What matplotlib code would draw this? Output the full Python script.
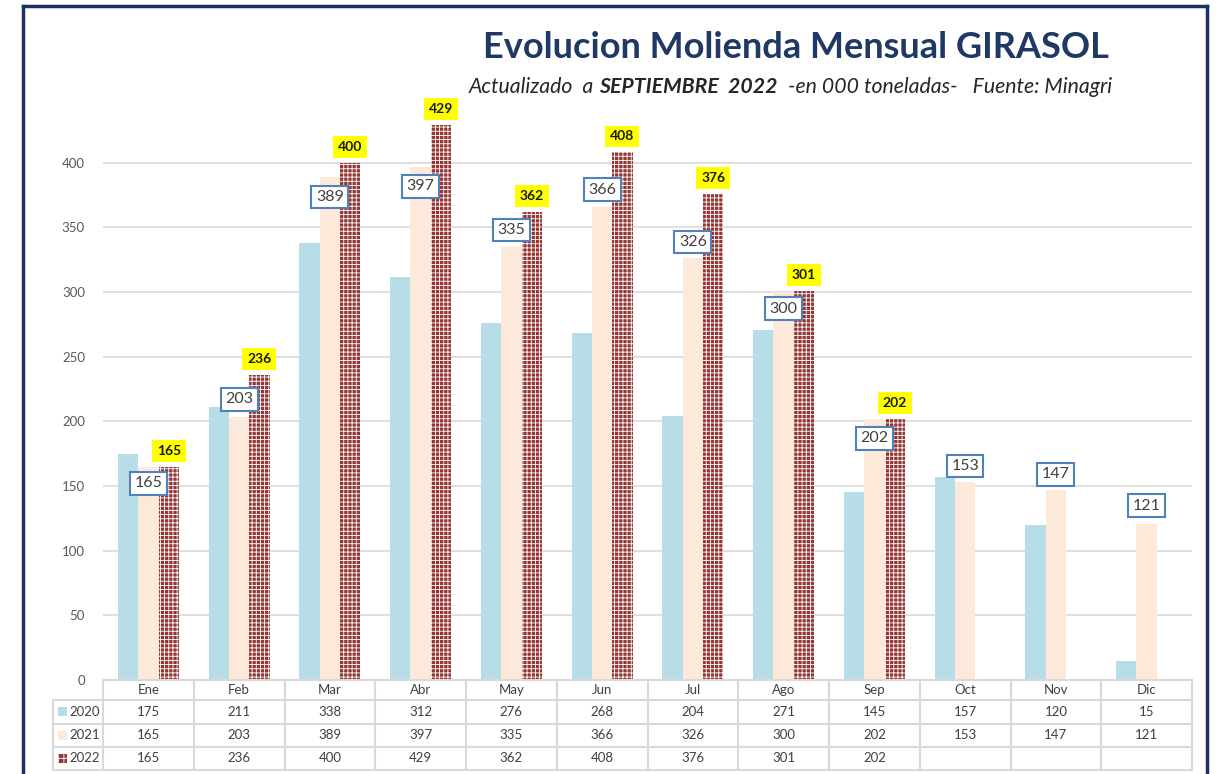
import matplotlib.pyplot as plt
from matplotlib.patches import Rectangle
from matplotlib.lines import Line2D

# Data (thousand tonnes)
meses = ["Ene", "Feb", "Mar", "Abr", "May", "Jun", "Jul", "Ago", "Sep", "Oct", "Nov", "Dic"]
v2020 = [175, 211, 338, 312, 276, 268, 204, 271, 145, 157, 120, 15]
v2021 = [165, 203, 389, 397, 335, 366, 326, 300, 202, 153, 147, 121]
v2022 = [165, 236, 400, 429, 362, 408, 376, 301, 202]
anios = ["2020", "2021", "2022"]

# vertical shift of the 2021 labels (Excel labels were moved by hand)
lbl21_dy = [-13, 14, -15.5, -15, 13, 13, 12.7, -13, -15, 12.5, 12, 13.6]

c20 = "#b7dde8"
c21 = "#fde9d9"
c22 = "#943634"
navy = "#1f3864"
txt = "#404040"
linea = "#d9d9d9"

plt.rcParams["font.family"] = ["Lato", "DejaVu Sans"]
plt.rcParams["hatch.linewidth"] = 0.6

W, H = 1217, 774
fig = plt.figure(figsize=(W / 100, H / 100), dpi=100)

# main chart
ax = fig.add_axes([103 / W, 94 / H, 1089 / W, 581.9 / H])
bw = 0.224
x = list(range(len(meses)))
ax.bar([i - bw for i in x], v2020, width=bw, color=c20, zorder=2)
ax.bar(x, v2021, width=bw, color=c21, zorder=2)
ax.bar([i + bw for i in range(len(v2022))], v2022, width=bw, color=c22,
       edgecolor="white", linewidth=0, hatch="++++", zorder=2)

ax.set_xlim(-0.5, 11.5)
ax.set_ylim(0, 450)
ax.set_yticks(range(0, 401, 50))
ax.set_xticks([])
ax.tick_params(axis="y", length=0, pad=13, labelsize=9.5, labelcolor="#595959")
for s in ax.spines.values():
    s.set_visible(False)
for t in range(50, 401, 50):
    ax.axhline(t, color=linea, lw=1.2, zorder=1)

# 2022 labels (yellow), then 2021 labels on top
for i, v in enumerate(v2022):
    ax.annotate(str(v), (i + bw, v), xytext=(0, 11.5), textcoords="offset points",
                ha="center", va="center", fontsize=10, fontweight="bold",
                color="#1a1a1a", zorder=5,
                bbox=dict(boxstyle="square,pad=0.35", fc="#ffff00", ec="none"))
for i, v in enumerate(v2021):
    ax.text(i, v + lbl21_dy[i], str(v), ha="center", va="center", fontsize=11.5,
            color=txt, zorder=6,
            bbox=dict(boxstyle="square,pad=0.28", fc="white", ec="#4f81bd", lw=1.5))

# data table under the chart
tax = fig.add_axes([103 / W, 4 / H, 1089 / W, 90 / H])
tax.set_xlim(-0.5, 11.5)
tax.set_ylim(90, 0)
tax.axis("off")
left = -0.5 - 50 / 90.75
filas = [0, 20, 43.5, 67, 90]
for k, y in enumerate(filas):
    x0 = -0.5 if k == 0 else left
    tax.add_line(Line2D([x0, 11.5], [y, y], color=linea, lw=1.5, clip_on=False))
for k in range(13):
    tax.add_line(Line2D([k - 0.5, k - 0.5], [0, 90], color=linea, lw=1.5, clip_on=False))
tax.add_line(Line2D([left, left], [20, 90], color=linea, lw=1.5, clip_on=False))

for i, m in enumerate(meses):
    tax.text(i, 10, m, ha="center", va="center", fontsize=9.5, color=txt)
series = [v2020, v2021, v2022]
colores = [c20, c21, c22]
sw = 9 / 90.75
for r, (nombre, vals, col) in enumerate(zip(anios, series, colores)):
    yc = (filas[r + 1] + filas[r + 2]) / 2
    if nombre == "2022":
        tax.add_patch(Rectangle((-0.996, yc - 4.5), sw, 9, fc=col, ec="white", lw=0,
                                hatch="+++", clip_on=False))
    else:
        tax.add_patch(Rectangle((-0.996, yc - 4.5), sw, 9, fc=col, lw=0, clip_on=False))
    tax.text(-0.875, yc, nombre, ha="left", va="center", fontsize=9.5, color=txt)
    for i, v in enumerate(vals):
        tax.text(i, yc, str(v), ha="center", va="center", fontsize=9.5, color=txt)

# titles
fig.text(796 / W, 1 - 48 / H, "Evolucion Molienda Mensual GIRASOL", ha="center",
         va="center", fontsize=26, fontweight="bold", color=navy)
t1 = fig.text(469 / W, 1 - 87 / H, "Actualizado  a ", ha="left", va="center",
              fontsize=15.3, style="italic", color="#262626")
a = fig.add_artist(plt.Annotation("SEPTIEMBRE  2022", xy=(1, 0), xycoords=t1,
                                  va="bottom", fontsize=15.3, style="italic",
                                  fontweight="bold", color="#262626",
                                  annotation_clip=False))
fig.add_artist(plt.Annotation("  -en 000 toneladas-   Fuente: Minagri", xy=(1, 0),
                              xycoords=a, va="bottom", fontsize=15.3, style="italic",
                              color="#262626", annotation_clip=False))

# navy frame (bottom edge is off the picture)
marco = "#1b2f6b"
fig.add_artist(Line2D([23 / W, 23 / W], [0, 1 - 6 / H], color=marco, lw=2.5))
fig.add_artist(Line2D([23 / W, 1207 / W], [1 - 6 / H, 1 - 6 / H], color=marco, lw=2.5))
fig.add_artist(Line2D([1207 / W, 1207 / W], [0, 1 - 6 / H], color=marco, lw=2.5))

fig.savefig("out.png", dpi=100)
